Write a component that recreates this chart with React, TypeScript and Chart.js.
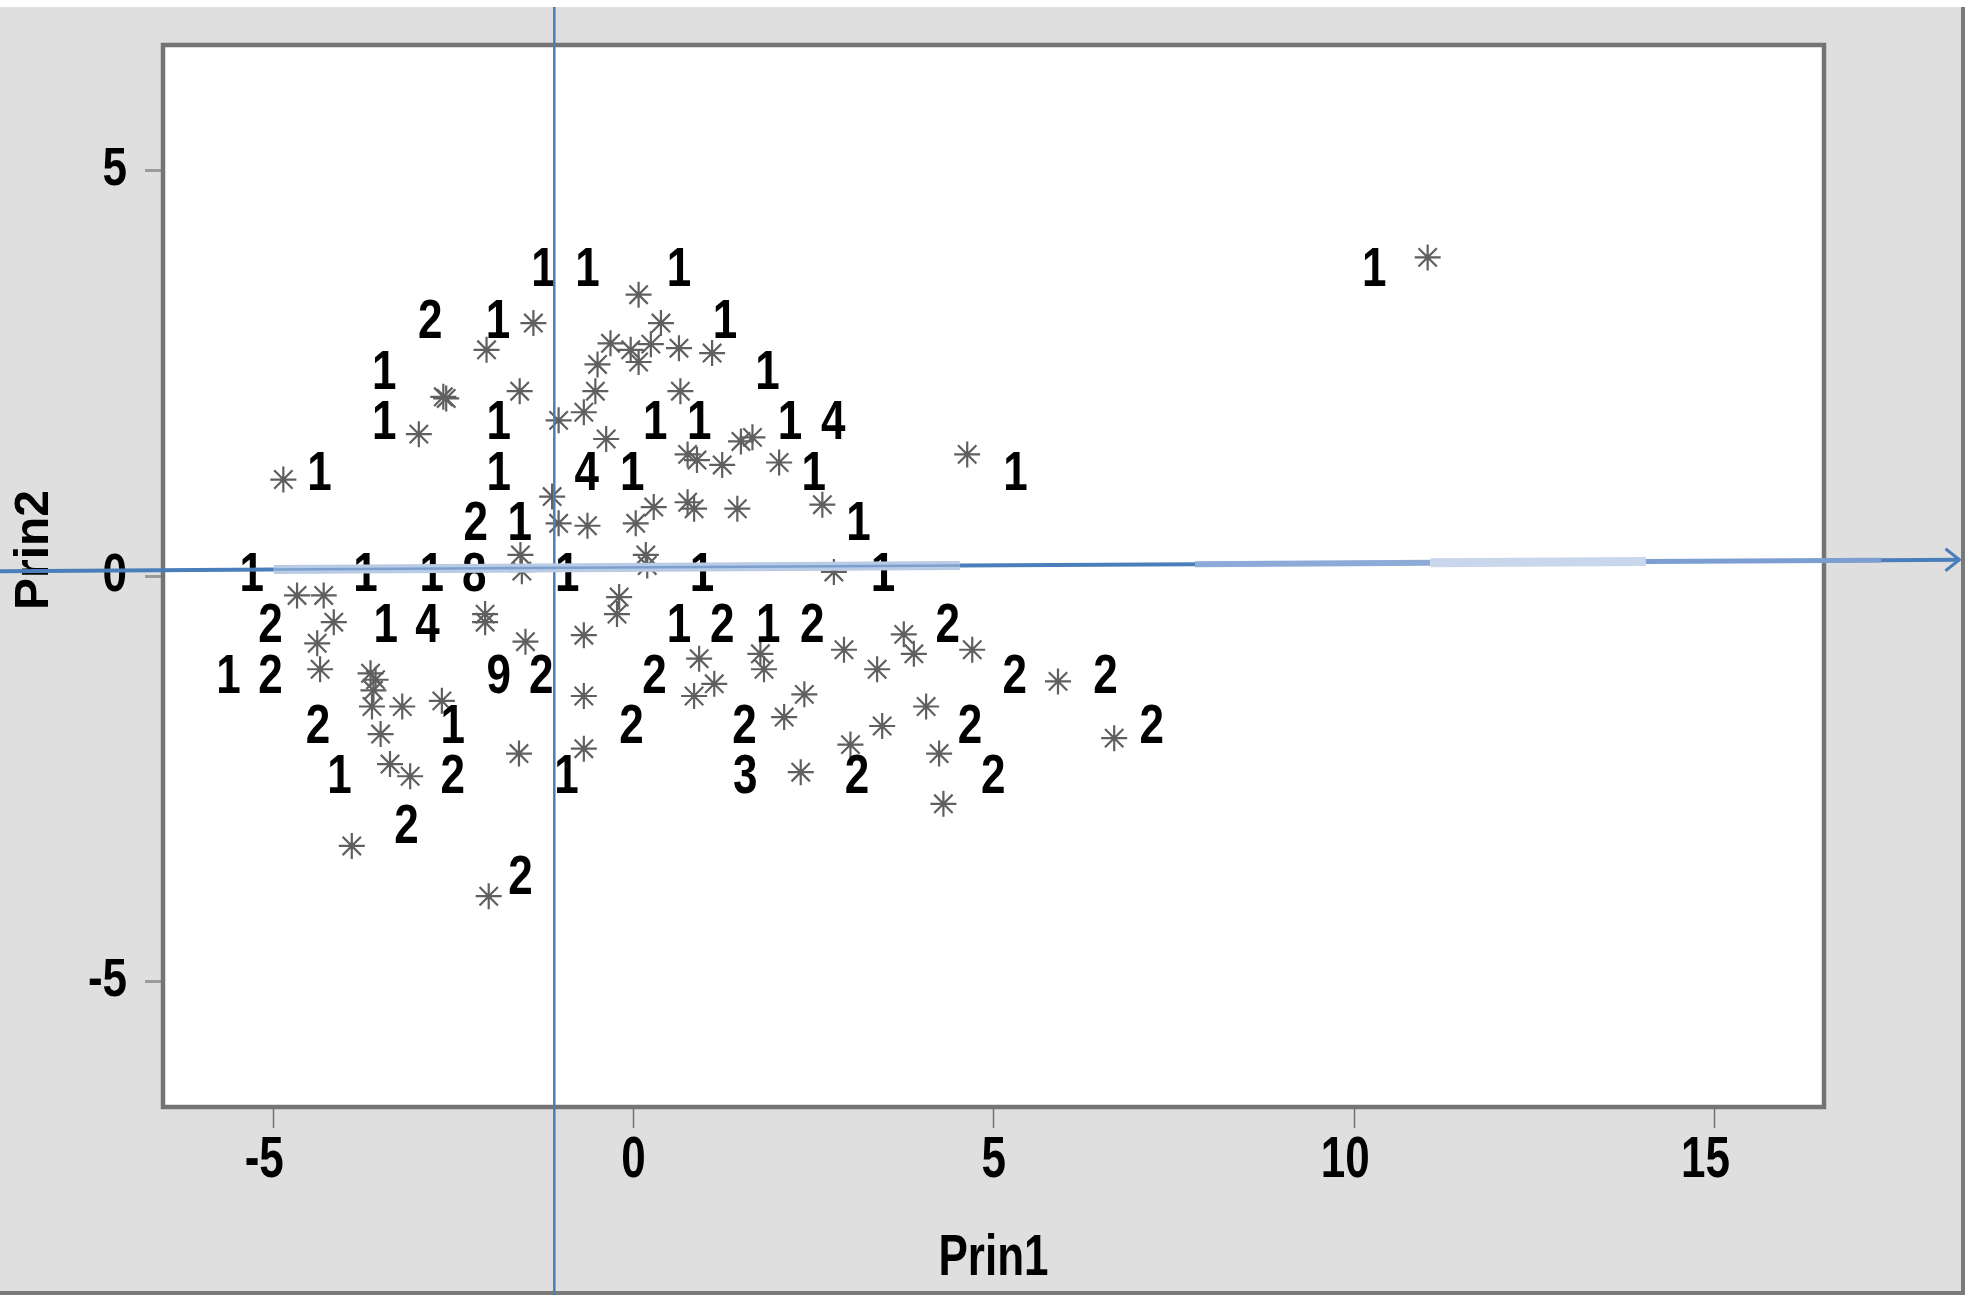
import React, { useEffect, useRef } from 'react';
import { Chart, registerables } from 'chart.js';

Chart.register(...registerables);

// ---------- data ----------
const xTicks = [-5, 0, 5, 10, 15];
const yTicks = [-5, 0, 5];
const xTitle = 'Prin1';
const yTitle = 'Prin2';

// observation markers (asterisks)
const starX = [
  0.07, -1.39, 0.38, -2.04, -0.32, -0.04, 0.24, 0.07, 0.63, 1.09,
  -0.5, -2.64, -2.6, -1.58, -0.53, 0.65, -2.98, -0.69, -1.04, -0.38,
  0.75, 0.88, 1.23, 1.49, -4.86, -1.13, -1.04, -0.64, 0.03, 0.28,
  0.75, 0.84, 1.44, -1.57, -1.55, 0.17, 0.19, -4.67, -4.3, -4.16,
  -4.39, -4.35, -2.06, -2.06, -1.5, -0.2, -0.23, -0.69, -3.65, -3.58,
  -3.61, -3.63, -3.21, -2.66, -3.51, -3.38, -3.1, -1.59, -0.69, -0.69,
  0.91, 1.12, 0.84, -3.91, -2.01, 1.65, 2.02, 2.62, 4.63, 2.78,
  1.76, 1.81, 2.92, 3.38, 3.75, 3.89, 4.7, 2.37, 2.09, 3.45,
  4.06, 3.01, 4.24, 2.32, 4.3, 5.89, 6.67, 11.02,
];
const starY = [
  3.47, 3.12, 3.12, 2.79, 2.87, 2.79, 2.86, 2.64, 2.81, 2.75,
  2.61, 2.21, 2.19, 2.28, 2.28, 2.28, 1.75, 2.02, 1.92, 1.69,
  1.5, 1.43, 1.37, 1.66, 1.19, 0.98, 0.65, 0.62, 0.65, 0.85,
  0.91, 0.83, 0.83, 0.26, 0.06, 0.26, 0.13, -0.24, -0.24, -0.57,
  -0.83, -1.15, -0.47, -0.57, -0.81, -0.26, -0.47, -0.73, -1.2, -1.28,
  -1.41, -1.61, -1.61, -1.54, -1.95, -2.32, -2.47, -2.19, -1.48, -2.13,
  -1.02, -1.33, -1.48, -3.33, -3.95, 1.71, 1.4, 0.88, 1.5, 0.05,
  -0.96, -1.15, -0.91, -1.15, -0.72, -0.96, -0.91, -1.46, -1.74, -1.85,
  -1.61, -2.08, -2.19, -2.42, -2.81, -1.3, -2.0, 3.93,
];

// count labels
const labelX = [
  -1.25, -0.64, 0.63, 10.28,
  -2.82, -1.88, 1.27,
  -3.46, 1.86,
  -3.46, -1.87, 0.3, 0.91, 2.17, 2.77,
  -4.36, -1.87, -0.65, -0.02, 2.5, 5.3,
  -2.19, -1.58, 3.12,
  -5.3, -3.72, -2.8, -2.21, -0.92, 0.95, 3.46,
  -5.04, -3.44, -2.86, 0.63, 1.23, 1.87, 2.48, 4.36,
  -5.62, -5.04, -1.87, -1.28, 0.29, 5.29, 6.55,
  -4.38, -2.51, -0.03, 1.54, 4.67, 7.19,
  -4.08, -2.51, -0.93, 1.55, 3.1, 4.99,
  -3.15,
  -1.57,
];
const labelY = [
  3.77, 3.77, 3.77, 3.77,
  3.12, 3.12, 3.12,
  2.5, 2.5,
  1.88, 1.88, 1.88, 1.88, 1.88, 1.88,
  1.25, 1.25, 1.25, 1.25, 1.25, 1.25,
  0.63, 0.63, 0.63,
  0.0, 0.0, 0.0, 0.0, 0.0, 0.0, 0.0,
  -0.63, -0.63, -0.63, -0.63, -0.63, -0.63, -0.63, -0.63,
  -1.26, -1.26, -1.26, -1.26, -1.26, -1.26, -1.26,
  -1.87, -1.87, -1.87, -1.87, -1.87, -1.87,
  -2.49, -2.49, -2.49, -2.49, -2.49, -2.49,
  -3.11,
  -3.73,
];
const labelText = [
  '1', '1', '1', '1',
  '2', '1', '1',
  '1', '1',
  '1', '1', '1', '1', '1', '4',
  '1', '1', '4', '1', '1', '1',
  '2', '1', '1',
  '1', '1', '1', '8', '1', '1', '1',
  '2', '1', '4', '1', '2', '1', '2', '2',
  '1', '2', '9', '2', '2', '2', '2',
  '2', '1', '2', '2', '2', '2',
  '1', '2', '1', '3', '2', '2',
  '2',
  '2',
];

// reference annotations (data units)
const refLineX = -1.1;
const arrowFrom = { x: -8.8, y: 0.06 };
const arrowTo = { x: 18.4, y: 0.2 };

// ---------- styling ----------
const FONT = '"Liberation Sans", Arial, sans-serif';
const BLUE = '#4a7ebb';

function stretchedText(
  ctx: CanvasRenderingContext2D,
  text: string,
  x: number,
  y: number,
  size: number,
  sy: number,
  align: CanvasTextAlign = 'center',
) {
  ctx.save();
  ctx.translate(x, y);
  ctx.scale(1, sy);
  ctx.font = `bold ${size}px ${FONT}`;
  ctx.textAlign = align;
  ctx.textBaseline = 'middle';
  ctx.fillStyle = '#000';
  ctx.fillText(text, 0, 0);
  ctx.restore();
}

const decor = {
  id: 'decor',
  beforeDraw(chart: any) {
    const { ctx, chartArea: a, width, height } = chart;
    ctx.save();
    ctx.fillStyle = '#ffffff';
    ctx.fillRect(0, 0, width, height);
    ctx.fillStyle = '#dfdfdf';
    ctx.fillRect(0, 7, 1962, 1285);
    ctx.fillStyle = '#7a7a7a';
    ctx.fillRect(1961, 7, 4, 1288);
    ctx.fillRect(0, 1291, 1965, 4);
    ctx.fillStyle = '#ffffff';
    ctx.fillRect(a.left, a.top, a.right - a.left, a.bottom - a.top);
    ctx.restore();
  },
  afterDatasetsDraw(chart: any) {
    const { ctx } = chart;
    const meta = chart.getDatasetMeta(1);
    meta.data.forEach((el: any, i: number) => {
      stretchedText(ctx, labelText[i], el.x, el.y, 44, 1.25);
    });
  },
  afterDraw(chart: any) {
    const { ctx, chartArea: a, scales } = chart;
    const xs = scales.x;
    const ys = scales.y;
    ctx.save();
    // frame
    ctx.strokeStyle = '#747474';
    ctx.lineWidth = 4.5;
    ctx.strokeRect(a.left, a.top, a.right - a.left, a.bottom - a.top);

    // tick labels, placed at the scales' own tick positions
    xs.ticks.forEach((t: any) => {
      const s = String(t.value);
      const shift = s.length > 1 ? -9 : 0;
      stretchedText(ctx, s, xs.getPixelForValue(t.value) + shift, xs.top + 54, 44, 1.3);
    });
    ys.ticks.forEach((t: any) => {
      stretchedText(ctx, String(t.value), ys.right - 36, ys.getPixelForValue(t.value), 44, 1.2, 'right');
    });

    // titles
    stretchedText(ctx, xTitle, (a.left + a.right) / 2, 1259, 44, 1.3);
    ctx.save();
    ctx.translate(35, (a.top + a.bottom) / 2 - 26);
    ctx.rotate(-Math.PI / 2);
    ctx.font = `bold 48px ${FONT}`;
    ctx.textAlign = 'center';
    ctx.textBaseline = 'middle';
    ctx.fillStyle = '#000';
    ctx.fillText(yTitle, 0, 0);
    ctx.restore();

    // vertical reference line
    const vx = xs.getPixelForValue(refLineX);
    ctx.strokeStyle = BLUE;
    ctx.lineWidth = 2.5;
    ctx.beginPath();
    ctx.moveTo(vx, 7);
    ctx.lineTo(vx, 1295);
    ctx.stroke();

    // horizontal arrow (segmented shading)
    const x0 = xs.getPixelForValue(arrowFrom.x);
    const y0 = ys.getPixelForValue(arrowFrom.y);
    const x1 = xs.getPixelForValue(arrowTo.x);
    const y1 = ys.getPixelForValue(arrowTo.y);
    const at = (t: number): [number, number] => [x0 + (x1 - x0) * t, y0 + (y1 - y0) * t];
    const segs: [number, number, string, number][] = [
      [0, 0.14, BLUE, 4],
      [0.14, 0.49, '#b9cbe5', 9],
      [0.49, 0.61, BLUE, 4],
      [0.61, 0.73, '#8eaad6', 6],
      [0.73, 0.84, '#c9d6ec', 9],
      [0.84, 0.96, '#7c9ed0', 5],
      [0.96, 1, BLUE, 4],
    ];
    segs.forEach(([t0, t1, c, w]) => {
      const [ax, ay] = at(t0);
      const [bx, by] = at(t1);
      ctx.strokeStyle = c;
      ctx.lineWidth = w;
      ctx.beginPath();
      ctx.moveTo(ax, ay);
      ctx.lineTo(bx, by);
      ctx.stroke();
    });
    ctx.strokeStyle = 'rgba(74,126,187,0.55)';
    ctx.lineWidth = 2.5;
    const p0 = at(0.14);
    const p1 = at(0.49);
    ctx.beginPath();
    ctx.moveTo(p0[0], p0[1]);
    ctx.lineTo(p1[0], p1[1]);
    ctx.stroke();
    // arrow head
    ctx.strokeStyle = BLUE;
    ctx.lineWidth = 3;
    ctx.beginPath();
    ctx.moveTo(x1 - 14, y1 - 11);
    ctx.lineTo(x1, y1);
    ctx.lineTo(x1 - 14, y1 + 11);
    ctx.stroke();
    ctx.restore();
  },
};

export default function App() {
  const ref = useRef<HTMLCanvasElement | null>(null);
  useEffect(() => {
    if (!ref.current) return;
    const chart = new Chart(ref.current, {
      type: 'scatter',
      data: {
        datasets: [
          {
            label: 'observations',
            data: starX.map((x, i) => ({ x, y: starY[i] })),
            pointStyle: 'star',
            pointRadius: 13,
            pointHoverRadius: 13,
            borderColor: '#5f5f5f',
            backgroundColor: '#5f5f5f',
            borderWidth: 2.2,
          },
          {
            label: 'counts',
            data: labelX.map((x, i) => ({ x, y: labelY[i] })),
            pointRadius: 0,
            pointHoverRadius: 0,
            borderWidth: 0,
          },
        ],
      },
      options: {
        responsive: false,
        animation: false,
        events: [],
        layout: { padding: { top: 45, right: 146, left: 0, bottom: 0 } },
        plugins: {
          legend: { display: false },
          tooltip: { enabled: false },
          title: { display: false },
        },
        scales: {
          x: {
            type: 'linear',
            min: -6.53,
            max: 16.52,
            afterFit: (s: any) => { s.height = 188; },
            afterBuildTicks: (s: any) => { s.ticks = xTicks.map((v) => ({ value: v })); },
            border: { display: false },
            grid: { display: true, drawOnChartArea: false, drawTicks: true, tickLength: 21, tickColor: '#6f6f6f', tickWidth: 1.5 },
            ticks: { color: 'rgba(0,0,0,0)', padding: 0, maxRotation: 0, autoSkip: false, font: { family: FONT, size: 44, weight: 'bold' } },
          },
          y: {
            type: 'linear',
            min: -6.55,
            max: 6.55,
            afterFit: (s: any) => { s.width = 163; },
            afterBuildTicks: (s: any) => { s.ticks = yTicks.map((v) => ({ value: v })); },
            border: { display: false },
            grid: { display: true, drawOnChartArea: false, drawTicks: true, tickLength: 18, tickColor: '#9a9a9a', tickWidth: 3 },
            ticks: { color: 'rgba(0,0,0,0)', padding: 18, autoSkip: false, font: { family: FONT, size: 44, weight: 'bold' } },
          },
        },
      },
      plugins: [decor],
    } as any);
    return () => chart.destroy();
  }, []);
  return (
    <div style={{ position: 'fixed', left: 0, top: 0, width: 1970, height: 1295 }}>
      <canvas ref={ref} width={1970} height={1295} style={{ width: 1970, height: 1295, display: 'block' }} />
    </div>
  );
}
